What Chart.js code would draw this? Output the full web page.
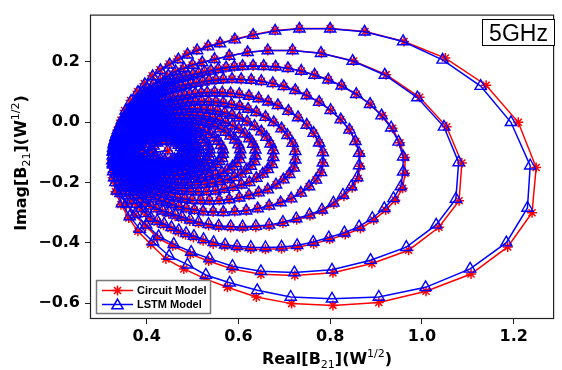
<!DOCTYPE html>
<html>
<head>
<meta charset="utf-8">
<script src="https://cdn.jsdelivr.net/npm/chart.js@4.4.1/dist/chart.umd.min.js"></script>
<style>
  html, body { margin: 0; padding: 0; background: #fff; }
  #wrap { width: 562px; height: 370px; }
</style>
</head>
<body>
<div id="wrap"><canvas id="b21Chart" width="562" height="370"></canvas></div>
<script>
// B21 trajectory at 5 GHz, one spiral turn per line (outer turn first)
const circuitRe = [
  0.324,0.326,0.330,0.336,0.344,0.352,0.365,0.380,0.395,0.412,0.429,0.449,0.468,0.488,0.509,0.533,0.559,0.592,0.632,0.680,0.733,0.800,0.876,0.961,1.051,1.140,1.210,1.249,1.240,1.187,1.107,1.009,0.906,0.806,0.716,0.639,0.576,0.528,0.481,0.442,0.409,0.381,0.361,0.344,0.332,0.326,
  0.324,0.326,0.329,0.335,0.342,0.351,0.361,0.374,0.386,0.400,0.414,0.430,0.446,0.462,0.480,0.499,0.520,0.548,0.580,0.620,0.664,0.718,0.781,0.851,0.922,0.995,1.054,1.087,1.081,1.037,0.971,0.891,0.806,0.723,0.649,0.586,0.535,0.495,0.457,0.424,0.398,0.374,0.356,0.342,0.331,0.326,
  0.326,0.326,0.327,0.328,0.330,0.332,0.335,0.338,0.341,0.344,0.348,0.352,0.357,0.362,0.367,0.372,0.378,0.384,0.390,0.395,0.401,0.408,0.415,0.421,0.428,0.434,0.441,0.448,0.456,0.464,0.472,0.481,0.490,0.501,0.513,0.526,0.540,0.556,0.573,0.591,0.609,0.632,0.655,0.681,0.708,0.737,0.766,0.796,0.825,0.857,0.887,0.914,0.936,0.952,0.963,0.963,0.958,0.942,0.921,0.895,0.866,0.833,0.799,0.764,0.729,0.694,0.659,0.627,0.597,0.570,0.545,0.523,0.502,0.485,0.469,0.453,0.437,0.423,0.409,0.398,0.388,0.378,0.368,0.360,0.353,0.347,0.341,0.336,0.332,0.329,0.327,
  0.328,0.328,0.329,0.330,0.332,0.334,0.336,0.338,0.340,0.343,0.347,0.350,0.354,0.358,0.363,0.367,0.371,0.376,0.382,0.386,0.391,0.397,0.403,0.408,0.414,0.419,0.425,0.431,0.438,0.444,0.451,0.458,0.466,0.475,0.485,0.496,0.508,0.522,0.536,0.551,0.567,0.586,0.606,0.628,0.650,0.675,0.699,0.724,0.749,0.776,0.801,0.823,0.842,0.856,0.865,0.865,0.861,0.848,0.830,0.808,0.783,0.756,0.727,0.697,0.667,0.638,0.609,0.583,0.557,0.535,0.513,0.494,0.476,0.462,0.448,0.434,0.421,0.409,0.398,0.389,0.380,0.371,0.363,0.357,0.351,0.345,0.340,0.336,0.333,0.331,0.329,
  0.330,0.330,0.331,0.332,0.333,0.334,0.336,0.338,0.340,0.343,0.346,0.349,0.352,0.356,0.360,0.363,0.367,0.371,0.375,0.379,0.384,0.388,0.393,0.398,0.403,0.407,0.412,0.417,0.423,0.428,0.434,0.440,0.447,0.455,0.463,0.473,0.483,0.494,0.506,0.519,0.532,0.548,0.565,0.583,0.602,0.623,0.644,0.665,0.686,0.709,0.730,0.749,0.764,0.776,0.784,0.784,0.780,0.769,0.754,0.736,0.715,0.692,0.667,0.642,0.617,0.592,0.567,0.545,0.523,0.504,0.486,0.470,0.455,0.443,0.432,0.420,0.409,0.399,0.389,0.381,0.374,0.367,0.360,0.354,0.349,0.344,0.340,0.337,0.334,0.332,0.331,
  0.332,0.332,0.333,0.334,0.335,0.336,0.337,0.339,0.341,0.343,0.346,0.348,0.351,0.354,0.357,0.360,0.364,0.367,0.371,0.374,0.378,0.382,0.386,0.390,0.395,0.399,0.403,0.407,0.412,0.417,0.422,0.427,0.433,0.440,0.447,0.455,0.464,0.474,0.484,0.495,0.506,0.520,0.535,0.551,0.567,0.585,0.603,0.621,0.639,0.659,0.677,0.694,0.707,0.718,0.724,0.724,0.721,0.711,0.698,0.682,0.664,0.644,0.623,0.602,0.580,0.558,0.537,0.518,0.499,0.483,0.467,0.453,0.440,0.430,0.420,0.410,0.400,0.391,0.383,0.376,0.370,0.364,0.358,0.353,0.348,0.344,0.341,0.338,0.336,0.334,0.333,
  0.334,0.334,0.335,0.335,0.336,0.337,0.339,0.340,0.342,0.344,0.346,0.348,0.351,0.353,0.356,0.359,0.362,0.365,0.368,0.371,0.374,0.378,0.382,0.385,0.389,0.392,0.396,0.400,0.404,0.408,0.412,0.417,0.422,0.428,0.434,0.441,0.449,0.458,0.467,0.476,0.486,0.498,0.511,0.525,0.539,0.554,0.570,0.586,0.602,0.619,0.635,0.650,0.661,0.670,0.676,0.676,0.673,0.664,0.653,0.639,0.624,0.607,0.588,0.569,0.550,0.531,0.513,0.496,0.480,0.466,0.452,0.440,0.428,0.419,0.411,0.402,0.394,0.386,0.379,0.373,0.367,0.362,0.357,0.352,0.348,0.345,0.342,0.339,0.337,0.336,0.335,
  0.337,0.337,0.338,0.338,0.339,0.340,0.341,0.342,0.344,0.346,0.348,0.350,0.352,0.354,0.357,0.359,0.361,0.364,0.367,0.369,0.372,0.375,0.379,0.382,0.385,0.388,0.391,0.394,0.398,0.402,0.406,0.410,0.414,0.419,0.425,0.431,0.438,0.445,0.453,0.462,0.471,0.481,0.492,0.504,0.517,0.530,0.544,0.558,0.572,0.587,0.601,0.614,0.624,0.632,0.637,0.637,0.635,0.627,0.617,0.605,0.591,0.576,0.560,0.544,0.527,0.510,0.494,0.479,0.465,0.452,0.440,0.430,0.420,0.412,0.404,0.396,0.389,0.382,0.376,0.371,0.366,0.361,0.357,0.353,0.350,0.347,0.344,0.342,0.340,0.339,0.338,
  0.340,0.341,0.342,0.344,0.346,0.350,0.353,0.357,0.361,0.366,0.371,0.377,0.382,0.388,0.394,0.401,0.408,0.413,0.417,0.423,0.429,0.436,0.442,0.450,0.457,0.467,0.476,0.487,0.498,0.510,0.522,0.535,0.547,0.560,0.572,0.583,0.593,0.600,0.604,0.604,0.602,0.595,0.587,0.576,0.564,0.550,0.536,0.522,0.507,0.493,0.478,0.465,0.452,0.442,0.431,0.422,0.413,0.400,0.386,0.376,0.366,0.359,0.351,0.347,0.342,
  0.344,0.345,0.346,0.347,0.349,0.352,0.355,0.358,0.362,0.366,0.370,0.375,0.380,0.384,0.389,0.395,0.401,0.405,0.409,0.414,0.419,0.424,0.430,0.436,0.443,0.451,0.459,0.468,0.477,0.487,0.497,0.507,0.518,0.529,0.539,0.548,0.556,0.562,0.566,0.566,0.564,0.558,0.551,0.542,0.532,0.521,0.509,0.497,0.484,0.472,0.460,0.450,0.439,0.430,0.420,0.413,0.405,0.394,0.383,0.375,0.366,0.360,0.353,0.350,0.346,
  0.350,0.350,0.351,0.352,0.354,0.356,0.359,0.362,0.365,0.368,0.372,0.376,0.380,0.384,0.388,0.393,0.398,0.401,0.405,0.409,0.413,0.418,0.423,0.428,0.433,0.440,0.447,0.454,0.462,0.470,0.479,0.488,0.497,0.506,0.515,0.523,0.529,0.534,0.537,0.537,0.536,0.531,0.525,0.517,0.509,0.499,0.489,0.478,0.468,0.458,0.448,0.439,0.430,0.422,0.414,0.408,0.402,0.392,0.383,0.375,0.368,0.363,0.358,0.355,0.352,
  0.358,0.358,0.359,0.360,0.362,0.364,0.366,0.368,0.371,0.373,0.376,0.379,0.383,0.386,0.390,0.394,0.398,0.401,0.404,0.407,0.410,0.414,0.419,0.423,0.427,0.433,0.439,0.445,0.451,0.458,0.466,0.473,0.480,0.488,0.495,0.501,0.507,0.511,0.514,0.514,0.513,0.509,0.504,0.497,0.490,0.482,0.474,0.466,0.457,0.449,0.440,0.432,0.424,0.418,0.412,0.407,0.401,0.393,0.385,0.379,0.373,0.369,0.365,0.362,0.359,
  0.372,0.372,0.373,0.374,0.375,0.376,0.378,0.380,0.382,0.384,0.387,0.389,0.392,0.395,0.398,0.401,0.405,0.407,0.409,0.412,0.415,0.418,0.421,0.425,0.429,0.433,0.438,0.443,0.448,0.454,0.460,0.466,0.472,0.478,0.484,0.489,0.494,0.497,0.499,0.499,0.498,0.495,0.491,0.486,0.480,0.473,0.466,0.459,0.452,0.445,0.438,0.432,0.426,0.421,0.416,0.412,0.407,0.400,0.394,0.389,0.384,0.380,0.377,0.375,0.373,
  0.390,0.391,0.395,0.400,0.406,0.412,0.423,0.433,0.440,0.448,0.457,0.466,0.475,0.483,0.487,0.486,0.481,0.472,0.462,0.451,0.441,0.431,0.417,0.407,0.396,0.391,
  0.412,0.415,0.423,0.434,0.441,0.452,0.464,0.470,0.475,0.478,0.477,0.474,0.468,0.461,0.454,0.440,0.430,0.418,0.413,0.446
];
const circuitIm = [
  -0.138,-0.098,-0.062,-0.026,0.007,0.039,0.072,0.102,0.128,0.154,0.174,0.193,0.210,0.226,0.239,0.252,0.262,0.275,0.290,0.304,0.311,0.311,0.301,0.268,0.213,0.123,0.000,-0.150,-0.300,-0.413,-0.503,-0.560,-0.597,-0.607,-0.601,-0.579,-0.547,-0.519,-0.486,-0.453,-0.404,-0.361,-0.317,-0.273,-0.230,-0.184,
  -0.127,-0.095,-0.066,-0.037,-0.010,0.017,0.043,0.067,0.089,0.110,0.126,0.142,0.155,0.169,0.179,0.190,0.198,0.209,0.220,0.232,0.238,0.238,0.229,0.203,0.158,0.083,-0.015,-0.135,-0.260,-0.348,-0.424,-0.468,-0.499,-0.508,-0.504,-0.486,-0.460,-0.437,-0.410,-0.383,-0.344,-0.308,-0.273,-0.237,-0.201,-0.164,
  -0.111,-0.098,-0.085,-0.073,-0.061,-0.049,-0.037,-0.026,-0.016,-0.005,0.006,0.017,0.028,0.038,0.047,0.056,0.065,0.074,0.082,0.089,0.095,0.102,0.108,0.114,0.119,0.125,0.130,0.134,0.138,0.143,0.147,0.150,0.153,0.158,0.162,0.167,0.171,0.176,0.181,0.184,0.186,0.187,0.186,0.184,0.179,0.170,0.157,0.141,0.121,0.093,0.060,0.022,-0.020,-0.068,-0.117,-0.169,-0.219,-0.258,-0.291,-0.324,-0.352,-0.372,-0.388,-0.403,-0.414,-0.419,-0.421,-0.420,-0.417,-0.411,-0.403,-0.393,-0.382,-0.373,-0.363,-0.352,-0.341,-0.331,-0.320,-0.304,-0.287,-0.273,-0.258,-0.244,-0.230,-0.216,-0.201,-0.187,-0.172,-0.157,-0.141,
  -0.099,-0.088,-0.077,-0.067,-0.058,-0.048,-0.039,-0.030,-0.021,-0.012,-0.004,0.005,0.014,0.022,0.029,0.037,0.044,0.051,0.058,0.063,0.068,0.074,0.079,0.083,0.087,0.092,0.096,0.100,0.103,0.107,0.111,0.113,0.115,0.119,0.123,0.127,0.130,0.134,0.138,0.140,0.142,0.143,0.142,0.140,0.136,0.129,0.119,0.106,0.089,0.067,0.040,0.009,-0.025,-0.064,-0.104,-0.146,-0.186,-0.217,-0.245,-0.271,-0.294,-0.310,-0.323,-0.335,-0.344,-0.348,-0.350,-0.349,-0.347,-0.342,-0.335,-0.327,-0.318,-0.311,-0.303,-0.295,-0.286,-0.277,-0.268,-0.255,-0.242,-0.230,-0.218,-0.207,-0.195,-0.183,-0.171,-0.160,-0.148,-0.136,-0.123,
  -0.096,-0.087,-0.079,-0.071,-0.063,-0.055,-0.048,-0.040,-0.033,-0.026,-0.019,-0.012,-0.005,0.001,0.007,0.013,0.019,0.025,0.030,0.035,0.039,0.043,0.047,0.051,0.054,0.058,0.061,0.064,0.067,0.070,0.073,0.075,0.077,0.080,0.083,0.086,0.088,0.092,0.095,0.097,0.098,0.099,0.098,0.096,0.093,0.087,0.079,0.068,0.056,0.037,0.016,-0.009,-0.036,-0.068,-0.100,-0.134,-0.166,-0.191,-0.213,-0.234,-0.253,-0.266,-0.277,-0.286,-0.293,-0.296,-0.298,-0.297,-0.296,-0.291,-0.286,-0.279,-0.272,-0.266,-0.260,-0.253,-0.246,-0.239,-0.232,-0.222,-0.211,-0.202,-0.192,-0.183,-0.173,-0.164,-0.154,-0.145,-0.135,-0.125,-0.115,
  -0.092,-0.085,-0.078,-0.071,-0.065,-0.059,-0.053,-0.047,-0.041,-0.035,-0.029,-0.023,-0.018,-0.012,-0.007,-0.002,0.002,0.007,0.012,0.016,0.019,0.023,0.026,0.029,0.032,0.035,0.037,0.040,0.042,0.045,0.047,0.049,0.050,0.053,0.055,0.058,0.060,0.063,0.065,0.067,0.068,0.069,0.068,0.067,0.064,0.059,0.053,0.044,0.033,0.017,0.000,-0.021,-0.043,-0.069,-0.096,-0.124,-0.151,-0.172,-0.190,-0.207,-0.223,-0.233,-0.242,-0.250,-0.256,-0.259,-0.260,-0.259,-0.258,-0.254,-0.250,-0.245,-0.239,-0.234,-0.229,-0.223,-0.217,-0.211,-0.205,-0.197,-0.188,-0.180,-0.172,-0.165,-0.157,-0.149,-0.141,-0.133,-0.125,-0.117,-0.109,
  -0.090,-0.084,-0.078,-0.073,-0.068,-0.062,-0.057,-0.052,-0.047,-0.042,-0.037,-0.032,-0.028,-0.023,-0.019,-0.015,-0.011,-0.007,-0.003,0.000,0.003,0.006,0.009,0.012,0.014,0.017,0.019,0.021,0.022,0.024,0.026,0.028,0.029,0.031,0.033,0.035,0.037,0.040,0.042,0.043,0.044,0.045,0.044,0.043,0.041,0.037,0.031,0.024,0.015,0.002,-0.013,-0.031,-0.049,-0.071,-0.093,-0.116,-0.139,-0.156,-0.171,-0.185,-0.199,-0.207,-0.215,-0.221,-0.227,-0.229,-0.230,-0.229,-0.228,-0.225,-0.222,-0.217,-0.212,-0.208,-0.204,-0.199,-0.194,-0.189,-0.184,-0.177,-0.170,-0.164,-0.157,-0.151,-0.144,-0.138,-0.131,-0.124,-0.117,-0.111,-0.104,
  -0.089,-0.084,-0.079,-0.075,-0.070,-0.066,-0.061,-0.057,-0.052,-0.048,-0.044,-0.040,-0.036,-0.032,-0.028,-0.025,-0.022,-0.019,-0.015,-0.013,-0.010,-0.008,-0.005,-0.003,-0.001,0.001,0.003,0.005,0.007,0.009,0.010,0.011,0.012,0.014,0.016,0.018,0.019,0.021,0.023,0.024,0.025,0.026,0.025,0.024,0.022,0.019,0.014,0.008,0.000,-0.011,-0.023,-0.038,-0.054,-0.072,-0.091,-0.111,-0.130,-0.145,-0.158,-0.171,-0.182,-0.189,-0.195,-0.201,-0.205,-0.207,-0.208,-0.208,-0.207,-0.204,-0.201,-0.197,-0.193,-0.190,-0.186,-0.182,-0.177,-0.173,-0.169,-0.163,-0.157,-0.152,-0.146,-0.141,-0.135,-0.129,-0.123,-0.118,-0.112,-0.107,-0.101,
  -0.088,-0.080,-0.071,-0.064,-0.056,-0.049,-0.042,-0.036,-0.030,-0.025,-0.020,-0.016,-0.012,-0.009,-0.006,-0.003,-0.001,0.001,0.002,0.004,0.005,0.007,0.008,0.009,0.010,0.011,0.010,0.010,0.008,0.005,0.001,-0.005,-0.011,-0.021,-0.032,-0.045,-0.058,-0.074,-0.090,-0.107,-0.123,-0.136,-0.147,-0.158,-0.167,-0.174,-0.179,-0.184,-0.188,-0.189,-0.190,-0.190,-0.189,-0.187,-0.184,-0.181,-0.177,-0.171,-0.164,-0.155,-0.146,-0.137,-0.127,-0.118,-0.108,
  -0.088,-0.081,-0.074,-0.067,-0.061,-0.055,-0.049,-0.043,-0.038,-0.034,-0.030,-0.026,-0.023,-0.020,-0.018,-0.015,-0.013,-0.012,-0.011,-0.009,-0.008,-0.006,-0.005,-0.004,-0.004,-0.003,-0.004,-0.005,-0.006,-0.009,-0.012,-0.017,-0.022,-0.031,-0.040,-0.051,-0.062,-0.076,-0.090,-0.105,-0.119,-0.129,-0.139,-0.148,-0.157,-0.162,-0.167,-0.171,-0.174,-0.175,-0.176,-0.176,-0.175,-0.173,-0.171,-0.168,-0.165,-0.159,-0.153,-0.146,-0.138,-0.130,-0.122,-0.114,-0.105,
  -0.089,-0.083,-0.077,-0.071,-0.065,-0.060,-0.055,-0.050,-0.046,-0.042,-0.038,-0.035,-0.033,-0.030,-0.028,-0.026,-0.024,-0.023,-0.022,-0.021,-0.020,-0.018,-0.017,-0.016,-0.016,-0.015,-0.016,-0.017,-0.018,-0.020,-0.023,-0.027,-0.032,-0.039,-0.047,-0.057,-0.067,-0.078,-0.090,-0.103,-0.115,-0.124,-0.133,-0.141,-0.148,-0.153,-0.157,-0.160,-0.163,-0.164,-0.165,-0.165,-0.164,-0.163,-0.161,-0.158,-0.155,-0.150,-0.145,-0.139,-0.132,-0.125,-0.118,-0.111,-0.104,
  -0.090,-0.084,-0.079,-0.074,-0.069,-0.064,-0.060,-0.056,-0.053,-0.049,-0.046,-0.043,-0.041,-0.039,-0.037,-0.035,-0.034,-0.033,-0.032,-0.031,-0.030,-0.029,-0.028,-0.027,-0.027,-0.026,-0.027,-0.028,-0.029,-0.031,-0.033,-0.037,-0.041,-0.047,-0.054,-0.062,-0.070,-0.080,-0.091,-0.102,-0.112,-0.120,-0.128,-0.135,-0.141,-0.145,-0.148,-0.151,-0.153,-0.154,-0.155,-0.155,-0.154,-0.153,-0.151,-0.149,-0.147,-0.143,-0.138,-0.133,-0.127,-0.121,-0.115,-0.109,-0.102,
  -0.091,-0.086,-0.082,-0.078,-0.074,-0.070,-0.066,-0.063,-0.060,-0.057,-0.054,-0.052,-0.050,-0.048,-0.047,-0.045,-0.044,-0.043,-0.042,-0.041,-0.041,-0.040,-0.039,-0.038,-0.038,-0.037,-0.038,-0.038,-0.039,-0.041,-0.043,-0.046,-0.050,-0.055,-0.060,-0.067,-0.075,-0.083,-0.092,-0.101,-0.110,-0.117,-0.123,-0.129,-0.134,-0.137,-0.140,-0.143,-0.145,-0.146,-0.146,-0.146,-0.145,-0.144,-0.143,-0.141,-0.139,-0.136,-0.132,-0.127,-0.122,-0.117,-0.112,-0.107,-0.102,
  -0.092,-0.081,-0.072,-0.064,-0.059,-0.055,-0.051,-0.049,-0.049,-0.050,-0.053,-0.058,-0.067,-0.079,-0.093,-0.108,-0.118,-0.127,-0.132,-0.136,-0.137,-0.136,-0.131,-0.125,-0.113,-0.101,
  -0.093,-0.078,-0.068,-0.063,-0.061,-0.062,-0.068,-0.075,-0.083,-0.094,-0.105,-0.113,-0.120,-0.123,-0.126,-0.127,-0.123,-0.112,-0.100,-0.094
];
const lstmRe = [
  0.326,0.328,0.332,0.338,0.346,0.354,0.366,0.381,0.396,0.413,0.430,0.450,0.469,0.489,0.510,0.534,0.560,0.592,0.632,0.680,0.733,0.800,0.875,0.959,1.045,1.128,1.194,1.236,1.230,1.184,1.105,1.008,0.906,0.804,0.714,0.641,0.581,0.529,0.489,0.449,0.414,0.385,0.363,0.346,0.335,0.329,
  0.325,0.327,0.330,0.336,0.343,0.352,0.362,0.375,0.387,0.401,0.415,0.431,0.447,0.463,0.481,0.500,0.521,0.548,0.580,0.620,0.664,0.718,0.780,0.849,0.919,0.990,1.048,1.080,1.074,1.031,0.966,0.888,0.804,0.722,0.649,0.587,0.537,0.497,0.459,0.426,0.399,0.375,0.357,0.343,0.332,0.327,
  0.326,0.326,0.327,0.328,0.330,0.332,0.335,0.338,0.341,0.344,0.348,0.352,0.357,0.362,0.367,0.372,0.378,0.384,0.390,0.395,0.401,0.408,0.415,0.421,0.428,0.434,0.441,0.448,0.456,0.464,0.472,0.481,0.490,0.501,0.513,0.526,0.540,0.556,0.573,0.591,0.609,0.632,0.655,0.681,0.708,0.737,0.766,0.796,0.825,0.857,0.887,0.912,0.933,0.949,0.959,0.959,0.954,0.938,0.918,0.892,0.863,0.831,0.797,0.763,0.728,0.694,0.659,0.627,0.597,0.571,0.546,0.524,0.503,0.486,0.470,0.454,0.438,0.423,0.409,0.398,0.388,0.378,0.368,0.360,0.353,0.347,0.341,0.336,0.332,0.329,0.327,
  0.328,0.328,0.329,0.330,0.332,0.334,0.336,0.338,0.340,0.343,0.347,0.350,0.354,0.358,0.363,0.367,0.371,0.376,0.382,0.386,0.391,0.397,0.403,0.408,0.414,0.419,0.425,0.431,0.438,0.444,0.451,0.458,0.466,0.475,0.485,0.496,0.508,0.522,0.536,0.551,0.567,0.586,0.606,0.628,0.650,0.675,0.699,0.724,0.749,0.776,0.801,0.823,0.842,0.855,0.863,0.863,0.859,0.846,0.828,0.807,0.782,0.755,0.726,0.697,0.667,0.638,0.609,0.583,0.557,0.535,0.513,0.495,0.477,0.463,0.449,0.435,0.421,0.409,0.398,0.389,0.380,0.371,0.363,0.357,0.351,0.345,0.340,0.336,0.333,0.331,0.329,
  0.330,0.330,0.331,0.332,0.333,0.334,0.336,0.338,0.340,0.343,0.346,0.349,0.352,0.356,0.360,0.363,0.367,0.371,0.375,0.379,0.384,0.388,0.393,0.398,0.403,0.407,0.412,0.417,0.423,0.428,0.434,0.440,0.447,0.455,0.463,0.473,0.483,0.494,0.506,0.519,0.532,0.548,0.565,0.583,0.602,0.623,0.644,0.665,0.686,0.709,0.730,0.749,0.764,0.776,0.784,0.784,0.780,0.769,0.754,0.736,0.715,0.692,0.667,0.642,0.617,0.592,0.567,0.545,0.523,0.504,0.486,0.470,0.455,0.443,0.432,0.420,0.409,0.399,0.389,0.381,0.374,0.367,0.360,0.354,0.349,0.344,0.340,0.337,0.334,0.332,0.331,
  0.332,0.332,0.333,0.334,0.335,0.336,0.337,0.339,0.341,0.343,0.346,0.348,0.351,0.354,0.357,0.360,0.364,0.367,0.371,0.374,0.378,0.382,0.386,0.390,0.395,0.399,0.403,0.407,0.412,0.417,0.422,0.427,0.433,0.440,0.447,0.455,0.464,0.474,0.484,0.495,0.506,0.520,0.535,0.551,0.567,0.585,0.603,0.621,0.639,0.659,0.677,0.694,0.707,0.718,0.724,0.724,0.721,0.711,0.698,0.682,0.664,0.644,0.623,0.602,0.580,0.558,0.537,0.518,0.499,0.483,0.467,0.453,0.440,0.430,0.420,0.410,0.400,0.391,0.383,0.376,0.370,0.364,0.358,0.353,0.348,0.344,0.341,0.338,0.336,0.334,0.333,
  0.334,0.334,0.335,0.335,0.336,0.337,0.339,0.340,0.342,0.344,0.346,0.348,0.351,0.353,0.356,0.359,0.362,0.365,0.368,0.371,0.374,0.378,0.382,0.385,0.389,0.392,0.396,0.400,0.404,0.408,0.412,0.417,0.422,0.428,0.434,0.441,0.449,0.458,0.467,0.476,0.486,0.498,0.511,0.525,0.539,0.554,0.570,0.586,0.602,0.619,0.635,0.650,0.661,0.670,0.676,0.676,0.673,0.664,0.653,0.639,0.624,0.607,0.588,0.569,0.550,0.531,0.513,0.496,0.480,0.466,0.452,0.440,0.428,0.419,0.411,0.402,0.394,0.386,0.379,0.373,0.367,0.362,0.357,0.352,0.348,0.345,0.342,0.339,0.337,0.336,0.335,
  0.337,0.337,0.338,0.338,0.339,0.340,0.341,0.342,0.344,0.346,0.348,0.350,0.352,0.354,0.357,0.359,0.361,0.364,0.367,0.369,0.372,0.375,0.379,0.382,0.385,0.388,0.391,0.394,0.398,0.402,0.406,0.410,0.414,0.419,0.425,0.431,0.438,0.445,0.453,0.462,0.471,0.481,0.492,0.504,0.517,0.530,0.544,0.558,0.572,0.587,0.601,0.614,0.624,0.632,0.637,0.637,0.635,0.627,0.617,0.605,0.591,0.576,0.560,0.544,0.527,0.510,0.494,0.479,0.465,0.452,0.440,0.430,0.420,0.412,0.404,0.396,0.389,0.382,0.376,0.371,0.366,0.361,0.357,0.353,0.350,0.347,0.344,0.342,0.340,0.339,0.338,
  0.340,0.341,0.342,0.344,0.346,0.350,0.353,0.357,0.361,0.366,0.371,0.377,0.382,0.388,0.394,0.401,0.408,0.413,0.417,0.423,0.429,0.436,0.442,0.450,0.457,0.467,0.476,0.487,0.498,0.510,0.522,0.535,0.547,0.560,0.572,0.583,0.593,0.600,0.604,0.604,0.602,0.595,0.587,0.576,0.564,0.550,0.536,0.522,0.507,0.493,0.478,0.465,0.452,0.442,0.431,0.422,0.413,0.400,0.386,0.376,0.366,0.359,0.351,0.347,0.342,
  0.344,0.345,0.346,0.347,0.349,0.352,0.355,0.358,0.362,0.366,0.370,0.375,0.380,0.384,0.389,0.395,0.401,0.405,0.409,0.414,0.419,0.424,0.430,0.436,0.443,0.451,0.459,0.468,0.477,0.487,0.497,0.507,0.518,0.529,0.539,0.548,0.556,0.562,0.566,0.566,0.564,0.558,0.551,0.542,0.532,0.521,0.509,0.497,0.484,0.472,0.460,0.450,0.439,0.430,0.420,0.413,0.405,0.394,0.383,0.375,0.366,0.360,0.353,0.350,0.346,
  0.350,0.350,0.351,0.352,0.354,0.356,0.359,0.362,0.365,0.368,0.372,0.376,0.380,0.384,0.388,0.393,0.398,0.401,0.405,0.409,0.413,0.418,0.423,0.428,0.433,0.440,0.447,0.454,0.462,0.470,0.479,0.488,0.497,0.506,0.515,0.523,0.529,0.534,0.537,0.537,0.536,0.531,0.525,0.517,0.509,0.499,0.489,0.478,0.468,0.458,0.448,0.439,0.430,0.422,0.414,0.408,0.402,0.392,0.383,0.375,0.368,0.363,0.358,0.355,0.352,
  0.358,0.358,0.359,0.360,0.362,0.364,0.366,0.368,0.371,0.373,0.376,0.379,0.383,0.386,0.390,0.394,0.398,0.401,0.404,0.407,0.410,0.414,0.419,0.423,0.427,0.433,0.439,0.445,0.451,0.458,0.466,0.473,0.480,0.488,0.495,0.501,0.507,0.511,0.514,0.514,0.513,0.509,0.504,0.497,0.490,0.482,0.474,0.466,0.457,0.449,0.440,0.432,0.424,0.418,0.412,0.407,0.401,0.393,0.385,0.379,0.373,0.369,0.365,0.362,0.359,
  0.372,0.372,0.373,0.374,0.375,0.376,0.378,0.380,0.382,0.384,0.387,0.389,0.392,0.395,0.398,0.401,0.405,0.407,0.409,0.412,0.415,0.418,0.421,0.425,0.429,0.433,0.438,0.443,0.448,0.454,0.460,0.466,0.472,0.478,0.484,0.489,0.494,0.497,0.499,0.499,0.498,0.495,0.491,0.486,0.480,0.473,0.466,0.459,0.452,0.445,0.438,0.432,0.426,0.421,0.416,0.412,0.407,0.400,0.394,0.389,0.384,0.380,0.377,0.375,0.373,
  0.390,0.391,0.395,0.400,0.406,0.412,0.423,0.433,0.440,0.448,0.457,0.466,0.475,0.483,0.487,0.486,0.481,0.472,0.462,0.451,0.441,0.431,0.417,0.407,0.396,0.391,
  0.412,0.415,0.423,0.434,0.441,0.452,0.464,0.470,0.475,0.478,0.477,0.474,0.468,0.461,0.454,0.440,0.430,0.418,0.413,0.446
];
const lstmIm = [
  -0.137,-0.097,-0.061,-0.025,0.007,0.038,0.070,0.100,0.126,0.152,0.172,0.191,0.208,0.224,0.238,0.251,0.261,0.274,0.289,0.303,0.310,0.310,0.300,0.268,0.207,0.120,0.000,-0.144,-0.284,-0.399,-0.486,-0.547,-0.579,-0.585,-0.579,-0.557,-0.532,-0.506,-0.472,-0.443,-0.396,-0.354,-0.312,-0.269,-0.227,-0.183,
  -0.127,-0.095,-0.066,-0.037,-0.010,0.017,0.043,0.067,0.089,0.110,0.126,0.142,0.155,0.169,0.179,0.190,0.198,0.209,0.220,0.232,0.238,0.238,0.229,0.203,0.157,0.082,-0.015,-0.133,-0.254,-0.340,-0.414,-0.457,-0.489,-0.498,-0.494,-0.477,-0.452,-0.430,-0.404,-0.378,-0.340,-0.305,-0.270,-0.235,-0.199,-0.163,
  -0.111,-0.098,-0.085,-0.073,-0.061,-0.049,-0.037,-0.026,-0.016,-0.005,0.006,0.017,0.028,0.038,0.047,0.056,0.065,0.074,0.082,0.089,0.095,0.102,0.108,0.114,0.119,0.125,0.130,0.134,0.138,0.143,0.147,0.150,0.153,0.158,0.162,0.167,0.171,0.176,0.181,0.184,0.186,0.187,0.186,0.184,0.179,0.170,0.157,0.141,0.121,0.093,0.060,0.022,-0.018,-0.065,-0.114,-0.164,-0.213,-0.252,-0.285,-0.318,-0.346,-0.366,-0.382,-0.397,-0.408,-0.413,-0.415,-0.414,-0.411,-0.406,-0.398,-0.388,-0.377,-0.368,-0.358,-0.348,-0.337,-0.327,-0.317,-0.301,-0.285,-0.271,-0.257,-0.243,-0.229,-0.215,-0.200,-0.186,-0.171,-0.156,-0.141,
  -0.099,-0.088,-0.077,-0.067,-0.058,-0.048,-0.039,-0.030,-0.021,-0.012,-0.004,0.005,0.014,0.022,0.029,0.037,0.044,0.051,0.058,0.063,0.068,0.074,0.079,0.083,0.087,0.092,0.096,0.100,0.103,0.107,0.111,0.113,0.115,0.119,0.123,0.127,0.130,0.134,0.138,0.140,0.142,0.143,0.142,0.140,0.136,0.129,0.119,0.106,0.089,0.067,0.040,0.009,-0.025,-0.063,-0.102,-0.143,-0.183,-0.213,-0.241,-0.267,-0.290,-0.306,-0.319,-0.331,-0.340,-0.344,-0.346,-0.345,-0.343,-0.338,-0.331,-0.323,-0.314,-0.307,-0.299,-0.293,-0.286,-0.277,-0.268,-0.255,-0.242,-0.230,-0.218,-0.207,-0.195,-0.183,-0.171,-0.160,-0.148,-0.136,-0.123,
  -0.096,-0.087,-0.079,-0.071,-0.063,-0.055,-0.048,-0.040,-0.033,-0.026,-0.019,-0.012,-0.005,0.001,0.007,0.013,0.019,0.025,0.030,0.035,0.039,0.043,0.047,0.051,0.054,0.058,0.061,0.064,0.067,0.070,0.073,0.075,0.077,0.080,0.083,0.086,0.088,0.092,0.095,0.097,0.098,0.099,0.098,0.096,0.093,0.087,0.079,0.068,0.056,0.037,0.016,-0.009,-0.036,-0.068,-0.100,-0.134,-0.166,-0.191,-0.213,-0.234,-0.253,-0.266,-0.277,-0.286,-0.293,-0.296,-0.298,-0.297,-0.296,-0.291,-0.286,-0.279,-0.272,-0.266,-0.260,-0.253,-0.246,-0.239,-0.232,-0.222,-0.211,-0.202,-0.192,-0.183,-0.173,-0.164,-0.154,-0.145,-0.135,-0.125,-0.115,
  -0.092,-0.085,-0.078,-0.071,-0.065,-0.059,-0.053,-0.047,-0.041,-0.035,-0.029,-0.023,-0.018,-0.012,-0.007,-0.002,0.002,0.007,0.012,0.016,0.019,0.023,0.026,0.029,0.032,0.035,0.037,0.040,0.042,0.045,0.047,0.049,0.050,0.053,0.055,0.058,0.060,0.063,0.065,0.067,0.068,0.069,0.068,0.067,0.064,0.059,0.053,0.044,0.033,0.017,0.000,-0.021,-0.043,-0.069,-0.096,-0.124,-0.151,-0.172,-0.190,-0.207,-0.223,-0.233,-0.242,-0.250,-0.256,-0.259,-0.260,-0.259,-0.258,-0.254,-0.250,-0.245,-0.239,-0.234,-0.229,-0.223,-0.217,-0.211,-0.205,-0.197,-0.188,-0.180,-0.172,-0.165,-0.157,-0.149,-0.141,-0.133,-0.125,-0.117,-0.109,
  -0.090,-0.084,-0.078,-0.073,-0.068,-0.062,-0.057,-0.052,-0.047,-0.042,-0.037,-0.032,-0.028,-0.023,-0.019,-0.015,-0.011,-0.007,-0.003,0.000,0.003,0.006,0.009,0.012,0.014,0.017,0.019,0.021,0.022,0.024,0.026,0.028,0.029,0.031,0.033,0.035,0.037,0.040,0.042,0.043,0.044,0.045,0.044,0.043,0.041,0.037,0.031,0.024,0.015,0.002,-0.013,-0.031,-0.049,-0.071,-0.093,-0.116,-0.139,-0.156,-0.171,-0.185,-0.199,-0.207,-0.215,-0.221,-0.227,-0.229,-0.230,-0.229,-0.228,-0.225,-0.222,-0.217,-0.212,-0.208,-0.204,-0.199,-0.194,-0.189,-0.184,-0.177,-0.170,-0.164,-0.157,-0.151,-0.144,-0.138,-0.131,-0.124,-0.117,-0.111,-0.104,
  -0.089,-0.084,-0.079,-0.075,-0.070,-0.066,-0.061,-0.057,-0.052,-0.048,-0.044,-0.040,-0.036,-0.032,-0.028,-0.025,-0.022,-0.019,-0.015,-0.013,-0.010,-0.008,-0.005,-0.003,-0.001,0.001,0.003,0.005,0.007,0.009,0.010,0.011,0.012,0.014,0.016,0.018,0.019,0.021,0.023,0.024,0.025,0.026,0.025,0.024,0.022,0.019,0.014,0.008,0.000,-0.011,-0.023,-0.038,-0.054,-0.072,-0.091,-0.111,-0.130,-0.145,-0.158,-0.171,-0.182,-0.189,-0.195,-0.201,-0.205,-0.207,-0.208,-0.208,-0.207,-0.204,-0.201,-0.197,-0.193,-0.190,-0.186,-0.182,-0.177,-0.173,-0.169,-0.163,-0.157,-0.152,-0.146,-0.141,-0.135,-0.129,-0.123,-0.118,-0.112,-0.107,-0.101,
  -0.088,-0.080,-0.071,-0.064,-0.056,-0.049,-0.042,-0.036,-0.030,-0.025,-0.020,-0.016,-0.012,-0.009,-0.006,-0.003,-0.001,0.001,0.002,0.004,0.005,0.007,0.008,0.009,0.010,0.011,0.010,0.010,0.008,0.005,0.001,-0.005,-0.011,-0.021,-0.032,-0.045,-0.058,-0.074,-0.090,-0.107,-0.123,-0.136,-0.147,-0.158,-0.167,-0.174,-0.179,-0.184,-0.188,-0.189,-0.190,-0.190,-0.189,-0.187,-0.184,-0.181,-0.177,-0.171,-0.164,-0.155,-0.146,-0.137,-0.127,-0.118,-0.108,
  -0.088,-0.081,-0.074,-0.067,-0.061,-0.055,-0.049,-0.043,-0.038,-0.034,-0.030,-0.026,-0.023,-0.020,-0.018,-0.015,-0.013,-0.012,-0.011,-0.009,-0.008,-0.006,-0.005,-0.004,-0.004,-0.003,-0.004,-0.005,-0.006,-0.009,-0.012,-0.017,-0.022,-0.031,-0.040,-0.051,-0.062,-0.076,-0.090,-0.105,-0.119,-0.129,-0.139,-0.148,-0.157,-0.162,-0.167,-0.171,-0.174,-0.175,-0.176,-0.176,-0.175,-0.173,-0.171,-0.168,-0.165,-0.159,-0.153,-0.146,-0.138,-0.130,-0.122,-0.114,-0.105,
  -0.089,-0.083,-0.077,-0.071,-0.065,-0.060,-0.055,-0.050,-0.046,-0.042,-0.038,-0.035,-0.033,-0.030,-0.028,-0.026,-0.024,-0.023,-0.022,-0.021,-0.020,-0.018,-0.017,-0.016,-0.016,-0.015,-0.016,-0.017,-0.018,-0.020,-0.023,-0.027,-0.032,-0.039,-0.047,-0.057,-0.067,-0.078,-0.090,-0.103,-0.115,-0.124,-0.133,-0.141,-0.148,-0.153,-0.157,-0.160,-0.163,-0.164,-0.165,-0.165,-0.164,-0.163,-0.161,-0.158,-0.155,-0.150,-0.145,-0.139,-0.132,-0.125,-0.118,-0.111,-0.104,
  -0.090,-0.084,-0.079,-0.074,-0.069,-0.064,-0.060,-0.056,-0.053,-0.049,-0.046,-0.043,-0.041,-0.039,-0.037,-0.035,-0.034,-0.033,-0.032,-0.031,-0.030,-0.029,-0.028,-0.027,-0.027,-0.026,-0.027,-0.028,-0.029,-0.031,-0.033,-0.037,-0.041,-0.047,-0.054,-0.062,-0.070,-0.080,-0.091,-0.102,-0.112,-0.120,-0.128,-0.135,-0.141,-0.145,-0.148,-0.151,-0.153,-0.154,-0.155,-0.155,-0.154,-0.153,-0.151,-0.149,-0.147,-0.143,-0.138,-0.133,-0.127,-0.121,-0.115,-0.109,-0.102,
  -0.091,-0.086,-0.082,-0.078,-0.074,-0.070,-0.066,-0.063,-0.060,-0.057,-0.054,-0.052,-0.050,-0.048,-0.047,-0.045,-0.044,-0.043,-0.042,-0.041,-0.041,-0.040,-0.039,-0.038,-0.038,-0.037,-0.038,-0.038,-0.039,-0.041,-0.043,-0.046,-0.050,-0.055,-0.060,-0.067,-0.075,-0.083,-0.092,-0.101,-0.110,-0.117,-0.123,-0.129,-0.134,-0.137,-0.140,-0.143,-0.145,-0.146,-0.146,-0.146,-0.145,-0.144,-0.143,-0.141,-0.139,-0.136,-0.132,-0.127,-0.122,-0.117,-0.112,-0.107,-0.102,
  -0.092,-0.081,-0.072,-0.064,-0.059,-0.055,-0.051,-0.049,-0.049,-0.050,-0.053,-0.058,-0.067,-0.079,-0.093,-0.108,-0.118,-0.127,-0.132,-0.136,-0.137,-0.136,-0.131,-0.125,-0.113,-0.101,
  -0.093,-0.078,-0.068,-0.063,-0.061,-0.062,-0.068,-0.075,-0.083,-0.094,-0.105,-0.113,-0.120,-0.123,-0.126,-0.127,-0.123,-0.112,-0.100,-0.094
];

const seriesNames = ['Circuit Model', 'LSTM Model'];
const freqLabel = '5GHz';
const xTicks = [0.4, 0.6, 0.8, 1.0, 1.2];
const yTicks = [-0.6, -0.4, -0.2, 0.0, 0.2];
const xLimits = [0.2765, 1.2881];
const yLimits = [-0.652, 0.357];

const RED = '#ff0000';
const BLUE = '#0000ff';
const TICK_FONT = { family: 'DejaVu Sans', size: 16, weight: 'bold' };

function toPoints(re, im) {
  return re.map((x, i) => ({ x: x, y: im[i] }));
}

function fmtTick(v) {
  const s = Math.abs(v).toFixed(1);
  return v < -1e-9 ? '\u2212' + s : s;
}

// text with sub/superscript pieces, centred on (cx, baseline)
function drawRich(ctx, parts, cx, baseline) {
  let total = 0;
  parts.forEach(p => { ctx.font = p.font; total += ctx.measureText(p.text).width; });
  let x = cx - total / 2;
  ctx.textAlign = 'left';
  ctx.textBaseline = 'alphabetic';
  parts.forEach(p => {
    ctx.font = p.font;
    ctx.fillText(p.text, x, baseline + (p.dy || 0));
    x += ctx.measureText(p.text).width;
  });
}

function axisTitle(head) {
  const big = 'bold 16px "DejaVu Sans"';
  const small = '11px "DejaVu Sans"';
  return [
    { text: head + '[B', font: big },
    { text: '21', font: small, dy: 4 },
    { text: '](W', font: big },
    { text: '1/2', font: small, dy: -7 },
    { text: ')', font: big }
  ];
}

function drawAsterisk(ctx, x, y, r) {
  ctx.beginPath();
  for (let k = 0; k < 4; k++) {
    const a = k * Math.PI / 4;
    ctx.moveTo(x - r * Math.cos(a), y - r * Math.sin(a));
    ctx.lineTo(x + r * Math.cos(a), y + r * Math.sin(a));
  }
  ctx.stroke();
}

function drawTriangle(ctx, x, y, r) {
  ctx.beginPath();
  ctx.moveTo(x, y - r);
  ctx.lineTo(x + 0.866 * r, y + 0.5 * r);
  ctx.lineTo(x - 0.866 * r, y + 0.5 * r);
  ctx.closePath();
  ctx.stroke();
}

const decorations = {
  id: 'decorations',
  afterDraw(chart) {
    const ctx = chart.ctx;
    const a = chart.chartArea;
    ctx.save();

    // plot frame
    ctx.strokeStyle = '#222';
    ctx.lineWidth = 1.2;
    ctx.strokeRect(a.left + 0.5, a.top + 0.5, a.right - a.left - 1, a.bottom - a.top - 1);

    // axis titles
    ctx.fillStyle = '#000';
    drawRich(ctx, axisTitle('Real'), 327, 364);
    ctx.save();
    ctx.translate(26, 163);
    ctx.rotate(-Math.PI / 2);
    drawRich(ctx, axisTitle('Imag'), 0, 0);
    ctx.restore();

    // frequency tag
    ctx.fillStyle = '#fff';
    ctx.fillRect(482.5, 19.5, 72, 26);
    ctx.strokeStyle = '#000';
    ctx.lineWidth = 1;
    ctx.strokeRect(482.5, 19.5, 72, 26);
    ctx.fillStyle = '#000';
    ctx.font = '23px "Liberation Sans"';
    ctx.textAlign = 'center';
    ctx.textBaseline = 'alphabetic';
    ctx.fillText(freqLabel, 518.5, 41);

    // legend box
    ctx.fillStyle = '#fff';
    ctx.fillRect(96.5, 280.5, 114, 33);
    ctx.strokeStyle = '#777';
    ctx.lineWidth = 1.5;
    ctx.strokeRect(96.5, 280.5, 114, 33);

    const rows = [
      { y: 290.5, color: RED, mark: 'star' },
      { y: 304.5, color: BLUE, mark: 'tri' }
    ];
    rows.forEach((row, i) => {
      ctx.strokeStyle = row.color;
      ctx.lineWidth = 1.5;
      ctx.beginPath();
      ctx.moveTo(102, row.y);
      ctx.lineTo(133, row.y);
      ctx.stroke();
      if (row.mark === 'star') drawAsterisk(ctx, 117.5, row.y, 5);
      else drawTriangle(ctx, 117.5, row.y + 1, 6.5);
      ctx.fillStyle = '#000';
      ctx.font = 'bold 11px "Liberation Sans"';
      ctx.textAlign = 'left';
      ctx.textBaseline = 'middle';
      ctx.fillText(seriesNames[i], 137, row.y);
    });

    ctx.restore();
  }
};

new Chart(document.getElementById('b21Chart').getContext('2d'), {
  type: 'scatter',
  data: {
    datasets: [
      {
        label: seriesNames[0],
        data: toPoints(circuitRe, circuitIm),
        showLine: true,
        borderColor: RED,
        borderWidth: 1.5,
        pointStyle: 'star',
        pointRadius: 5,
        pointBorderWidth: 1.5,
        pointBorderColor: RED,
        pointBackgroundColor: RED,
        tension: 0,
        order: 1
      },
      {
        label: seriesNames[1],
        data: toPoints(lstmRe, lstmIm),
        showLine: true,
        borderColor: BLUE,
        borderWidth: 1.5,
        pointStyle: 'triangle',
        pointRadius: 6.5,
        pointBorderWidth: 1.4,
        pointBorderColor: BLUE,
        pointBackgroundColor: 'rgba(0,0,0,0)',
        tension: 0,
        order: 0
      }
    ]
  },
  options: {
    responsive: false,
    animation: false,
    events: [],
    layout: { padding: { top: 11, right: 2, left: 0, bottom: 0 } },
    plugins: {
      legend: { display: false },
      tooltip: { enabled: false }
    },
    scales: {
      x: {
        type: 'linear',
        min: xLimits[0],
        max: xLimits[1],
        afterBuildTicks: s => { s.ticks = xTicks.map(v => ({ value: v })); },
        afterFit: s => { s.height = 51; },
        grid: { drawOnChartArea: false, drawTicks: true, tickLength: 5, color: '#222' },
        border: { display: false },
        ticks: { color: '#000', font: TICK_FONT, padding: 3, autoSkip: false, maxRotation: 0, callback: v => fmtTick(v) }
      },
      y: {
        type: 'linear',
        min: yLimits[0],
        max: yLimits[1],
        afterBuildTicks: s => { s.ticks = yTicks.map(v => ({ value: v })); },
        afterFit: s => { s.width = 90; },
        grid: { drawOnChartArea: false, drawTicks: true, tickLength: 5, color: '#222' },
        border: { display: false },
        ticks: { color: '#000', font: TICK_FONT, padding: 5, autoSkip: false, callback: v => fmtTick(v) }
      }
    }
  },
  plugins: [decorations]
});
</script>
</body>
</html>
